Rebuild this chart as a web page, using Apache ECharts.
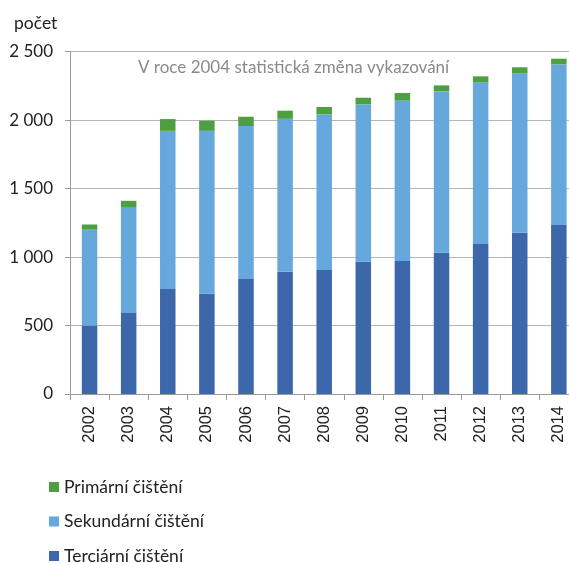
<!DOCTYPE html>
<html><head><meta charset="utf-8">
<script src="https://cdn.jsdelivr.net/npm/echarts@6/dist/echarts.min.js"></script>
<style>html,body{margin:0;padding:0;background:#fff;overflow:hidden;width:569px;height:563px}#c{width:579px;height:563px}</style>
</head><body><div id="c"></div>
<script>
const years = ['2002','2003','2004','2005','2006','2007','2008','2009','2010','2011','2012','2013','2014'];
const terciarni = [500, 592, 767, 733, 840, 892, 906, 965, 972, 1031, 1096, 1177, 1235];
const sekundarni = [700, 773, 1155, 1189, 1117, 1118, 1136, 1150, 1170, 1179, 1180, 1165, 1172];
const primarni = [38, 46, 86, 74, 68, 59, 54, 49, 56, 44, 44, 44, 42];
const names = ['Primární čištění', 'Sekundární čištění', 'Terciární čištění'];
const yTickLabels = {0:'0', 500:'500', 1000:'1 000', 1500:'1 500', 2000:'2 000', 2500:'2 500'};

const chart = echarts.init(document.getElementById('c'));
const font = 'Lato, "Open Sans", sans-serif';
chart.setOption({
  animation: false,
  title: [
    {text: 'počet', left: 9, top: 9, textStyle: {fontFamily: font, fontSize: 17.5, fontWeight: 'normal', color: '#222'}},
    {text: 'V roce 2004 statistická změna vykazování', left: 133, top: 54, textStyle: {fontFamily: font, fontSize: 17, fontWeight: 'normal', color: '#8a8a8a'}}
  ],
  legend: {
    orient: 'vertical', left: 44, top: 472, height: 110, itemWidth: 10, itemHeight: 10, itemGap: 14.5,
    icon: 'rect', data: names,
    textStyle: {fontFamily: font, fontSize: 17.5, lineHeight: 20, color: '#222'}
  },
  grid: {left: 70, top: 51.7, right: 0.6, bottom: 169},
  xAxis: {
    type: 'category', data: years,
    axisLine: {lineStyle: {color: '#9a9a9a'}},
    axisTick: {show: true, length: 6, lineStyle: {color: '#9a9a9a'}},
    axisLabel: {rotate: 90, margin: 12, fontFamily: '"Liberation Sans", Arial, sans-serif', fontSize: 16.5, color: '#222'}
  },
  yAxis: {
    type: 'value', min: 0, max: 2500, interval: 500,
    axisLine: {show: true, lineStyle: {color: '#9a9a9a'}},
    axisTick: {show: true, length: 5, lineStyle: {color: '#9a9a9a'}},
    splitLine: {lineStyle: {color: '#b5b5b5'}},
    axisLabel: {formatter: v => yTickLabels[v], margin: 17, fontFamily: font, fontSize: 17, color: '#222'}
  },
  series: [
    {name: names[2], type: 'bar', stack: 's', data: terciarni, barWidth: 15.5, itemStyle: {color: '#3c67ab'}},
    {name: names[1], type: 'bar', stack: 's', data: sekundarni, barWidth: 15.5, itemStyle: {color: '#67a8dc'}},
    {name: names[0], type: 'bar', stack: 's', data: primarni, barWidth: 15.5, itemStyle: {color: '#4d9f3f'}}
  ]
});
</script></body></html>
